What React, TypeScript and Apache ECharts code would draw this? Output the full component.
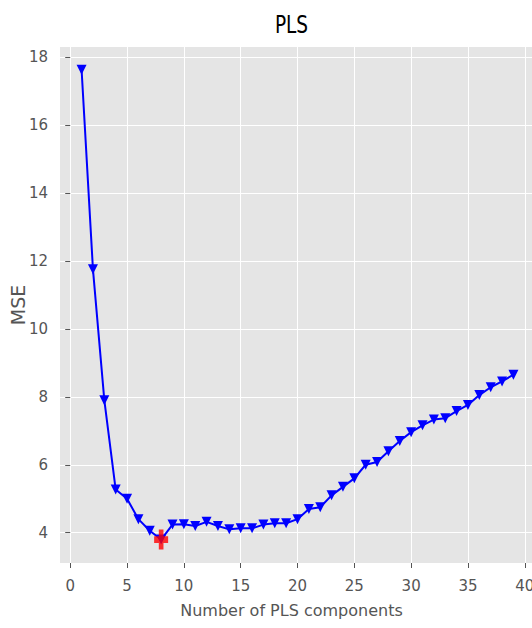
import React, { useEffect, useRef } from "react";
import * as echarts from "echarts";

const components = [
  1, 2, 3, 4, 5, 6, 7, 8, 9, 10, 11, 12, 13, 14, 15, 16, 17, 18, 19, 20,
  21, 22, 23, 24, 25, 26, 27, 28, 29, 30, 31, 32, 33, 34, 35, 36, 37, 38, 39,
];
const mseValues = [
  17.62, 11.75, 7.9, 5.27, 5.0, 4.4, 4.06, 3.8, 4.24, 4.25, 4.2, 4.32, 4.2,
  4.1, 4.13, 4.13, 4.24, 4.28, 4.28, 4.4, 4.7, 4.75, 5.1, 5.35, 5.6, 6.0,
  6.08, 6.4, 6.7, 6.96, 7.16, 7.33, 7.37, 7.58, 7.76, 8.05, 8.28, 8.45, 8.65,
];
const bestComponent = 8;
const bestMSE = 3.8;
const xTicks = [0, 5, 10, 15, 20, 25, 30, 35, 40];
const yTicks = [4, 6, 8, 10, 12, 14, 16, 18];

const FONT = "'DejaVu Sans', sans-serif";
const PLUS = "path://M1,0H2V1H3V2H2V3H1V2H0V1H1Z";

export default function App() {
  const ref = useRef<HTMLDivElement>(null);
  useEffect(() => {
    if (!ref.current) return;
    const chart = echarts.init(ref.current, undefined, { renderer: "svg" });
    const lineData = components.map((c, i) => [c, mseValues[i]]);
    chart.setOption({
      animation: false,
      backgroundColor: "#ffffff",
      graphic: [
        {
          type: "text",
          x: 291.5,
          y: 12,
          scaleX: 0.74,
          originX: 0,
          style: {
            text: "PLS",
            fill: "#000000",
            font: `25px ${FONT}`,
            textAlign: "center",
            textVerticalAlign: "top",
          },
        },
      ],
      grid: {
        left: 60,
        top: 47,
        width: 475,
        height: 516,
        show: true,
        backgroundColor: "#E5E5E5",
        borderWidth: 0,
        containLabel: false,
        outerBoundsMode: "none",
      },
      xAxis: {
        type: "value",
        min: -0.9,
        max: 40.9,
        name: "Number of PLS components",
        nameLocation: "middle",
        nameGap: 39,
        nameMoveOverlap: false,
        nameTextStyle: {
          color: "#555555",
          fontFamily: FONT,
          fontSize: 16,
          padding: [0, 12, 0, 0],
        },
        axisLine: { show: false },
        axisTick: {
          show: true,
          length: 5,
          customValues: xTicks,
          lineStyle: { color: "#555555", width: 1 },
        },
        axisLabel: {
          customValues: xTicks,
          color: "#555555",
          fontFamily: FONT,
          fontSize: 15,
          margin: 15,
        },
        splitLine: { show: true, lineStyle: { color: "#ffffff", width: 1 } },
      },
      yAxis: {
        type: "value",
        min: 3.11,
        max: 18.29,
        name: "MSE",
        nameLocation: "middle",
        nameGap: 33,
        nameMoveOverlap: false,
        nameTextStyle: {
          color: "#555555",
          fontFamily: FONT,
          fontSize: 19,
        },
        axisLine: { show: false },
        axisTick: {
          show: true,
          length: 5,
          customValues: yTicks,
          lineStyle: { color: "#555555", width: 1 },
        },
        axisLabel: {
          customValues: yTicks,
          color: "#555555",
          fontFamily: FONT,
          fontSize: 15,
          margin: 12,
        },
        splitLine: { show: true, lineStyle: { color: "#ffffff", width: 1 } },
      },
      series: [
        {
          type: "line",
          data: lineData,
          symbol: "triangle",
          symbolRotate: 180,
          symbolSize: [10, 10],
          showAllSymbol: true,
          lineStyle: { color: "#0000FF", width: 2 },
          itemStyle: { color: "#0000FF" },
          clip: false,
          z: 2,
        },
        {
          type: "scatter",
          data: [[bestComponent, bestMSE]],
          symbol: PLUS,
          symbolSize: [14, 20],
          itemStyle: { color: "#FF0000" },
          clip: false,
          z: 3,
        },
      ],
    });
    return () => chart.dispose();
  }, []);
  return (
    <div
      ref={ref}
      style={{ position: "fixed", left: 0, top: 0, width: 532, height: 628 }}
    />
  );
}
